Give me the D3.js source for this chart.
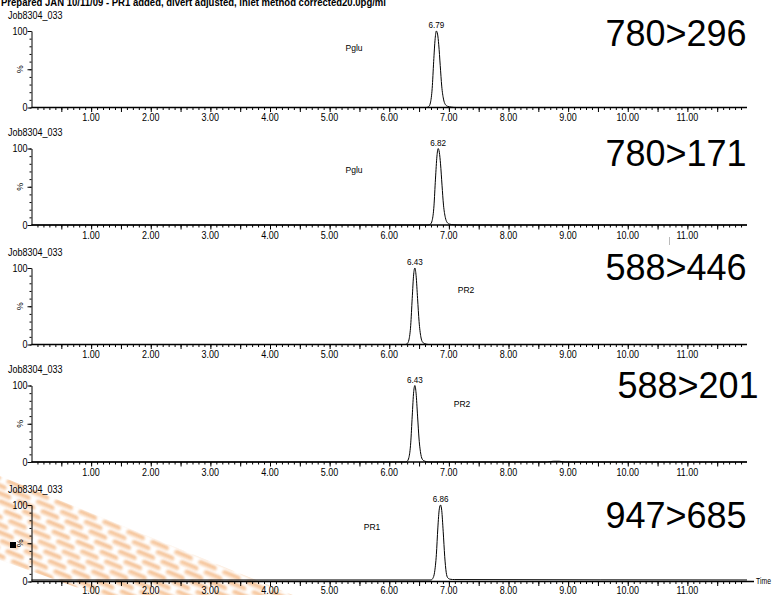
<!DOCTYPE html>
<html>
<head>
<meta charset="utf-8">
<script src="https://cdn.jsdelivr.net/npm/d3@7"></script>
<style>
  html, body { margin: 0; padding: 0; background: #fff; }
  svg { display: block; }
  text { font-family: "Liberation Sans", Arial, sans-serif; fill: #000; }
</style>
</head>
<body>
<script>
// ---- data -------------------------------------------------------------
const reportTitle = "Prepared JAN 10/11/09 - PR1 added, divert adjusted, inlet method corrected20.0pg/ml";
const sampleName = "Job8304_033";
const transitions = ["780>296", "780>171", "588>446", "588>201", "947>685"];
const compounds = ["Pglu", "Pglu", "PR2", "PR2", "PR1"];
const peakTimes = [6.79, 6.82, 6.43, 6.43, 6.86];
const xTickLabels = ["1.00", "2.00", "3.00", "4.00", "5.00", "6.00", "7.00", "8.00", "9.00", "10.00", "11.00"];
const xTickValues = [1, 2, 3, 4, 5, 6, 7, 8, 9, 10, 11];
const yTickLabels = ["0", "100"];

// retention time (min), relative intensity (%)
const trace780_296 = [[0, 0], [6.62, 0], [6.66, 1], [6.69, 6], [6.72, 25], [6.745, 60], [6.77, 90], [6.79, 100],
  [6.81, 96], [6.83, 82], [6.855, 55], [6.88, 28], [6.91, 11], [6.94, 4], [6.98, 1.5], [7.04, 0.5], [7.12, 0], [12, 0]];
const trace780_171 = [[0, 0], [6.65, 0], [6.69, 1], [6.72, 6], [6.75, 25], [6.775, 60], [6.80, 90], [6.82, 100],
  [6.84, 95], [6.86, 80], [6.885, 52], [6.91, 26], [6.94, 10], [6.97, 3.5], [7.01, 1.2], [7.07, 0.4], [7.15, 0], [12, 0]];
const trace588_446 = [[0, 0], [6.27, 0], [6.30, 1], [6.33, 6], [6.36, 25], [6.385, 60], [6.41, 92], [6.43, 100],
  [6.45, 90], [6.475, 60], [6.50, 30], [6.53, 10], [6.56, 3], [6.60, 1], [6.66, 0], [12, 0]];
const trace588_201 = [[0, 0], [6.27, 0], [6.30, 1], [6.33, 6], [6.36, 25], [6.385, 60], [6.41, 92], [6.43, 100],
  [6.45, 90], [6.475, 60], [6.50, 30], [6.53, 10], [6.56, 3], [6.60, 1], [6.66, 0], [8.65, 0], [8.75, 1],
  [8.85, 1], [8.95, 0], [12, 0]];
const trace947_685 = [[0, 2], [6.70, 2], [6.73, 4], [6.76, 12], [6.79, 35], [6.815, 70], [6.84, 95], [6.86, 100],
  [6.88, 93], [6.905, 65], [6.93, 33], [6.955, 12], [6.98, 5], [7.02, 3], [7.10, 2.5], [12, 2]];
const traces = [trace780_296, trace780_171, trace588_446, trace588_201, trace947_685];

// ---- layout -----------------------------------------------------------
const W = 772, H = 595;
const plotLeft = 31.5, plotRight = 747;
const panelTops = [31, 148.5, 268, 385.5, 505];
const plotH = 76.5;
const bigLabelPos = [[676, 33], [676, 153], [676, 267], [688, 385], [676, 515]];
const compoundPos = [[354, 48], [354, 170], [466, 290], [462, 404], [372, 527]];
const font = '"Liberation Sans", Arial, sans-serif';

const svg = d3.select("body").append("svg").attr("width", W).attr("height", H);
const defs = svg.append("defs");

// ---- background logo (diagonal orange streaks, lower left) ------------
defs.append("filter").attr("id", "soft").attr("x", "-20%").attr("y", "-20%").attr("width", "140%").attr("height", "140%")
  .append("feGaussianBlur").attr("stdDeviation", 1.3);
defs.append("clipPath").attr("id", "band")
  .append("path").attr("d", "M0,476 L305,600 L112,600 L0,560 Z");
const grad = defs.append("linearGradient").attr("id", "streak").attr("x1", 0).attr("y1", 0).attr("x2", 0).attr("y2", 1);
grad.append("stop").attr("offset", "0%").attr("stop-color", "#ec9448");
grad.append("stop").attr("offset", "55%").attr("stop-color", "#f6c292");
grad.append("stop").attr("offset", "100%").attr("stop-color", "#fce4cf");

const logo = svg.append("g").attr("clip-path", "url(#band)").attr("opacity", 0.78);
const ang = Math.atan(0.42) * 180 / Math.PI;
const streaks = logo.append("g").attr("transform", `translate(0,468) rotate(${ang})`).attr("filter", "url(#soft)");
for (let r = 0; r < 13; r++) {
  const v = r * 7.2;
  const off = (r % 3) * 9 - 24;
  for (let u = off; u < 380; u += 26) {
    streaks.append("rect").attr("x", u).attr("y", v).attr("width", 20).attr("height", 5)
      .attr("rx", 2.5).attr("fill", "url(#streak)");
  }
}

// ---- helpers ----------------------------------------------------------
function txt(g, x, y, s, size, anchor, opts = {}) {
  const sx = opts.sx ?? 0.9;
  return g.append("text")
    .attr("transform", `translate(${x},${y}) scale(${sx},1)` + (opts.rot ? ` rotate(${opts.rot})` : ""))
    .attr("text-anchor", anchor)
    .attr("dominant-baseline", "central")
    .style("font-size", size + "px")
    .style("font-weight", opts.weight || "normal")
    .style("font-family", font)
    .text(s);
}

// ---- title (top edge of the report header) ----------------------------
svg.append("text").attr("x", 1).attr("y", 6)
  .attr("textLength", 385).attr("lengthAdjust", "spacingAndGlyphs")
  .style("font-size", "10.5px").style("font-weight", "bold").style("font-family", font)
  .text(reportTitle);

const x = d3.scaleLinear().domain([0, 12]).range([plotLeft, plotRight]);

traces.forEach((data, i) => {
  const top = panelTops[i];
  const y = d3.scaleLinear().domain([0, 100]).range([top + plotH, top]);
  const y0 = y(0);
  const last = i === traces.length - 1;
  const g = svg.append("g");

  txt(g, 8, top - 16, sampleName, 10, "start");

  // y axis
  const yMinor = d3.axisLeft(y).tickValues(d3.range(0, 101, 10)).tickSize(2).tickFormat("").tickSizeOuter(0);
  const yMajor = d3.axisLeft(y).tickValues([0, 50, 100]).tickSize(4).tickFormat("").tickSizeOuter(0);
  const ya = g.append("g").attr("transform", `translate(${plotLeft},0)`).call(yMinor);
  g.append("g").attr("transform", `translate(${plotLeft},0)`).call(yMajor).select(".domain").remove();
  ya.select(".domain").attr("stroke-width", 1);
  txt(g, plotLeft - 4, y(100), yTickLabels[1], 10, "end");
  txt(g, plotLeft - 4, y(0), yTickLabels[0], 10, "end");
  txt(g, 20, y(50), "%", 9, "middle", { sx: 1, rot: -90 });

  // x axis
  const xMinor = d3.axisBottom(x).tickValues(d3.range(1, 120).map(k => k / 10)).tickSize(2.5).tickFormat("").tickSizeOuter(0);
  const xMajor = d3.axisBottom(x).tickValues(d3.range(1, 24).map(k => k / 2)).tickSize(4.5).tickFormat("").tickSizeOuter(0);
  g.append("g").attr("transform", `translate(0,${y0})`).call(xMinor).select(".domain").remove();
  g.append("g").attr("transform", `translate(0,${y0})`).call(xMajor).select(".domain").remove();
  const axisEnd = last ? 754 : plotRight;
  g.append("line").attr("x1", plotLeft).attr("x2", axisEnd).attr("y1", y0).attr("y2", y0)
    .attr("stroke", "#000").attr("stroke-width", 1.6);
  xTickValues.forEach((v, k) => txt(g, x(v), y0 + (last ? 9 : 10), xTickLabels[k], 10, "middle"));
  if (last) txt(g, 756, y0, "Time", 9, "start", { sx: 0.76 });

  // chromatogram trace
  const line = d3.line().x(d => x(d[0])).y(d => y(d[1])).curve(d3.curveMonotoneX);
  g.append("path").datum(data).attr("d", line).attr("fill", "none").attr("stroke", "#000").attr("stroke-width", 1);

  // peak annotation
  txt(g, x(peakTimes[i]), y(100) - 6, peakTimes[i].toFixed(2), 9, "middle");
  txt(g, compoundPos[i][0], compoundPos[i][1], compounds[i], 9.5, "middle");

  // transition label
  g.append("text").attr("x", bigLabelPos[i][0]).attr("y", bigLabelPos[i][1])
    .attr("text-anchor", "middle").attr("dominant-baseline", "central")
    .style("font-size", "36px").style("font-family", font).text(transitions[i]);
});

// small marks
svg.append("rect").attr("x", 10).attr("y", 542).attr("width", 6).attr("height", 6).attr("fill", "#000");
svg.append("line").attr("x1", 669.5).attr("x2", 669.5).attr("y1", 237).attr("y2", 245)
  .attr("stroke", "#bbb").attr("stroke-width", 1);
</script>
</body>
</html>
